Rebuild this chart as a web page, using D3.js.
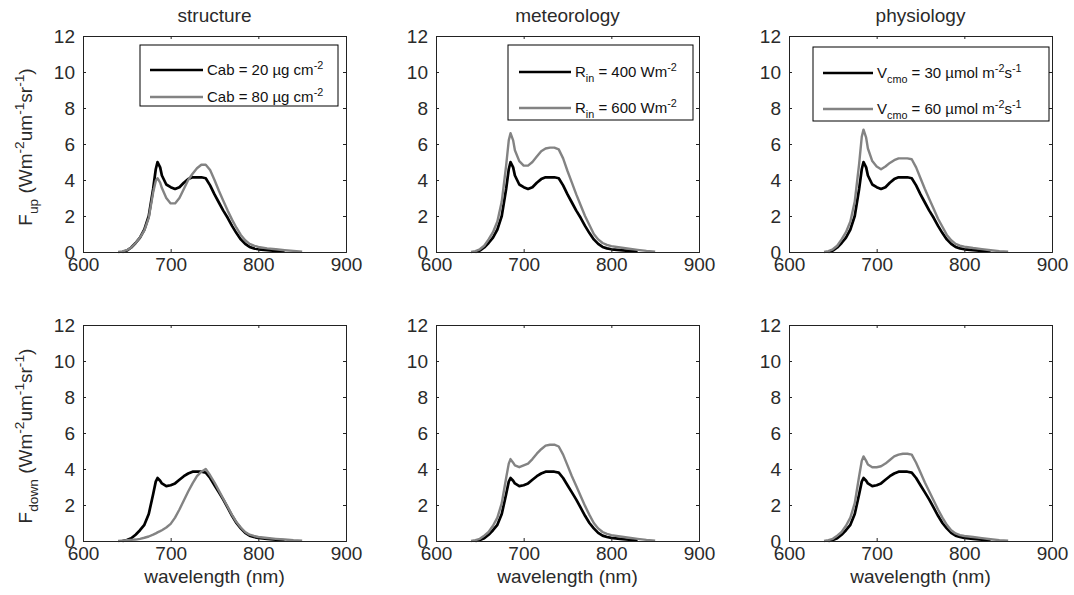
<!DOCTYPE html>
<html>
<head>
<meta charset="utf-8">
<script src="https://cdn.jsdelivr.net/npm/d3@7"></script>
<style>
  body { margin: 0; background: #fff; }
  svg { display: block; font-family: "Liberation Sans", Arial, sans-serif; }
</style>
</head>
<body>
<div id="chart"></div>
<script>
// wavelength grid (nm) shared by every curve
const wavelength = [640, 645, 650, 655, 660, 665, 670, 675, 680, 683, 685, 688, 690, 695, 700, 705, 710, 715, 720, 725,
  730, 735, 740, 745, 750, 755, 760, 765, 770, 775, 780, 785, 790, 795, 800, 810, 820, 830, 840, 850];

// upward fluorescence (W m-2 um-1 sr-1)
const upBase = [null, 0, 0.08, 0.25, 0.5, 0.8, 1.25, 2.0, 3.5, 4.6, 5.0, 4.7, 4.25, 3.75, 3.6, 3.5, 3.6, 3.85, 4.05, 4.15,
  4.15, 4.15, 4.1, 3.7, 3.2, 2.75, 2.3, 1.9, 1.45, 1.05, 0.7, 0.45, 0.28, 0.2, 0.15, 0.1, 0.06, 0.02, null, null];
const upCab80 = [0, 0.03, 0.1, 0.25, 0.5, 0.8, 1.2, 1.9, 3.3, 3.95, 4.1, 3.85, 3.55, 3.0, 2.7, 2.7, 3.0, 3.5, 4.0, 4.35,
  4.65, 4.85, 4.85, 4.55, 4.0, 3.4, 2.85, 2.3, 1.8, 1.35, 0.95, 0.65, 0.45, 0.35, 0.28, 0.2, 0.15, 0.1, 0.06, 0.02];
const upRin600 = [0, 0.05, 0.15, 0.35, 0.7, 1.1, 1.7, 2.8, 4.8, 6.2, 6.6, 6.2, 5.65, 5.05, 4.8, 4.8, 5.0, 5.3, 5.6, 5.75,
  5.8, 5.8, 5.7, 5.2, 4.5, 3.85, 3.2, 2.6, 2.0, 1.5, 1.0, 0.7, 0.5, 0.4, 0.33, 0.25, 0.18, 0.12, 0.06, 0.02];
const upVcmo60 = [0, 0.05, 0.15, 0.35, 0.7, 1.1, 1.7, 2.8, 4.9, 6.4, 6.8, 6.35, 5.75, 5.05, 4.75, 4.6, 4.75, 4.95, 5.1, 5.2,
  5.2, 5.2, 5.15, 4.7, 4.1, 3.5, 2.95, 2.4, 1.85, 1.4, 0.95, 0.65, 0.45, 0.35, 0.3, 0.22, 0.16, 0.1, 0.05, 0.02];

// downward fluorescence
const downBase = [null, 0, 0.05, 0.15, 0.35, 0.6, 0.9, 1.5, 2.6, 3.3, 3.5, 3.35, 3.2, 3.05, 3.1, 3.2, 3.4, 3.6, 3.75, 3.85,
  3.85, 3.85, 3.8, 3.5, 3.1, 2.7, 2.3, 1.85, 1.4, 1.0, 0.7, 0.45, 0.3, 0.22, 0.17, 0.12, 0.07, 0.03, null, null];
const downCab80 = [0, 0.02, 0.04, 0.06, 0.08, 0.12, 0.18, 0.25, 0.35, 0.42, 0.48, 0.55, 0.6, 0.75, 0.95, 1.3, 1.75, 2.25, 2.75, 3.2,
  3.6, 3.85, 4.0, 3.65, 3.25, 2.8, 2.35, 1.9, 1.45, 1.05, 0.75, 0.5, 0.35, 0.28, 0.22, 0.17, 0.12, 0.08, 0.04, 0.02];
const downRin600 = [0, 0.05, 0.12, 0.3, 0.5, 0.85, 1.3, 2.1, 3.5, 4.3, 4.55, 4.35, 4.2, 4.1, 4.2, 4.3, 4.55, 4.85, 5.1, 5.3,
  5.35, 5.35, 5.25, 4.8, 4.2, 3.6, 3.05, 2.5, 1.95, 1.45, 1.0, 0.7, 0.5, 0.4, 0.33, 0.25, 0.18, 0.12, 0.06, 0.02];
const downVcmo60 = [0, 0.05, 0.12, 0.3, 0.5, 0.85, 1.3, 2.1, 3.6, 4.45, 4.7, 4.45, 4.25, 4.1, 4.1, 4.15, 4.3, 4.5, 4.7, 4.8,
  4.85, 4.85, 4.8, 4.35, 3.8, 3.25, 2.75, 2.25, 1.75, 1.3, 0.9, 0.6, 0.42, 0.33, 0.28, 0.22, 0.16, 0.1, 0.05, 0.02];

const columnTitles = ["structure", "meteorology", "physiology"];
const xTicks = [600, 700, 800, 900];
const yTicks = [0, 2, 4, 6, 8, 10, 12];

// legend labels, as rich-text parts
const legendLabels = [
  [[{ t: "Cab = 20 µg cm" }, { t: "-2", sup: true }], [{ t: "Cab = 80 µg cm" }, { t: "-2", sup: true }]],
  [[{ t: "R" }, { t: "in", sub: true }, { t: " = 400 Wm" }, { t: "-2", sup: true }],
   [{ t: "R" }, { t: "in", sub: true }, { t: " = 600 Wm" }, { t: "-2", sup: true }]],
  [[{ t: "V" }, { t: "cmo", sub: true }, { t: " = 30 µmol m" }, { t: "-2", sup: true }, { t: "s" }, { t: "-1", sup: true }],
   [{ t: "V" }, { t: "cmo", sub: true }, { t: " = 60 µmol m" }, { t: "-2", sup: true }, { t: "s" }, { t: "-1", sup: true }]]
];
const yLabels = [
  [{ t: "F" }, { t: "up", sub: true }, { t: " (Wm" }, { t: "-2", sup: true }, { t: "um" }, { t: "-1", sup: true }, { t: "sr" }, { t: "-1", sup: true }, { t: ")" }],
  [{ t: "F" }, { t: "down", sub: true }, { t: " (Wm" }, { t: "-2", sup: true }, { t: "um" }, { t: "-1", sup: true }, { t: "sr" }, { t: "-1", sup: true }, { t: ")" }]
];

// [row][col] -> [black series, gray series]
const panelSeries = [
  [[upBase, upCab80], [upBase, upRin600], [upBase, upVcmo60]],
  [[downBase, downCab80], [downBase, downRin600], [downBase, downVcmo60]]
];

// layout
const W = 1074, H = 595;
const colX = [83, 436, 789];
const rowY = [36, 325];
const pw = 263, ph = 216;
const fs = 19;
const lineColors = ["#000", "#838383"];
const lineWidths = [2.7, 2.4];
// legend boxes (relative to plot area)
const legendBoxes = [
  { x: 57, y: 9, w: 198, h: 61, lx0: 10, lx1: 63, rows: [25, 52] },
  { x: 72, y: 9, w: 185, h: 75, lx0: 11, lx1: 63, rows: [27, 63] },
  { x: 24, y: 11, w: 236, h: 74, lx0: 10, lx1: 60, rows: [26, 62] }
];

const svg = d3.select("#chart").append("svg")
  .attr("width", W).attr("height", H);

function richText(sel, parts, size) {
  let shift = 0;
  parts.forEach(p => {
    let target = 0;
    let s = size;
    if (p.sup) { target = -size * 0.42; s = size * 0.72; }
    if (p.sub) { target = size * 0.32; s = size * 0.72; }
    sel.append("tspan")
      .attr("dy", target - shift)
      .attr("font-size", s)
      .text(p.t);
    shift = target;
  });
}

const x = d3.scaleLinear().domain([600, 900]).range([0, pw]);
const y = d3.scaleLinear().domain([0, 12]).range([ph, 0]);

const line = d3.line()
  .defined(d => d[1] != null)
  .x(d => x(d[0]))
  .y(d => y(d[1]));

for (let r = 0; r < 2; r++) {
  for (let c = 0; c < 3; c++) {
    const g = svg.append("g").attr("transform", `translate(${colX[c]},${rowY[r]})`);

    // curves
    panelSeries[r][c].forEach((vals, i) => {
      g.append("path")
        .datum(wavelength.map((w, k) => [w, vals[k]]))
        .attr("d", line)
        .attr("fill", "none")
        .attr("stroke", lineColors[i])
        .attr("stroke-width", lineWidths[i])
        .attr("stroke-linejoin", "round");
    });

    // axes (MATLAB style: inward ticks on all four sides)
    const tk = 3;
    g.append("g").attr("transform", `translate(0,${ph})`)
      .call(d3.axisBottom(x).tickValues(xTicks).tickSize(-tk).tickPadding(6).tickFormat(d3.format("d")));
    g.append("g")
      .call(d3.axisTop(x).tickValues(xTicks).tickSize(-tk).tickFormat(""));
    g.append("g")
      .call(d3.axisLeft(y).tickValues(yTicks).tickSize(-tk).tickPadding(8).tickFormat(d3.format("d")));
    g.append("g").attr("transform", `translate(${pw},0)`)
      .call(d3.axisRight(y).tickValues(yTicks).tickSize(-tk).tickFormat(""));
    g.selectAll(".domain").attr("stroke", "#222").attr("stroke-width", 1);
    g.selectAll(".tick line").attr("stroke", "#222");
    g.selectAll(".tick text").attr("font-size", fs).attr("fill", "#2a2a2a")
      .attr("font-family", "Liberation Sans, Arial, sans-serif");

    // titles
    if (r === 0) {
      g.append("text")
        .attr("x", pw / 2).attr("y", -14)
        .attr("text-anchor", "middle")
        .attr("font-size", fs).attr("fill", "#2a2a2a")
        .text(columnTitles[c]);

      // legend
      const lb = legendBoxes[c];
      const lg = g.append("g").attr("transform", `translate(${lb.x},${lb.y})`);
      lg.append("rect")
        .attr("width", lb.w).attr("height", lb.h)
        .attr("fill", "#fff").attr("stroke", "#000").attr("stroke-width", 1);
      legendLabels[c].forEach((parts, i) => {
        lg.append("line")
          .attr("x1", lb.lx0).attr("x2", lb.lx1)
          .attr("y1", lb.rows[i]).attr("y2", lb.rows[i])
          .attr("stroke", lineColors[i]).attr("stroke-width", lineWidths[i]);
        const t = lg.append("text")
          .attr("x", lb.lx1 + 4).attr("y", lb.rows[i] + 5)
          .attr("font-size", 15).attr("fill", "#111");
        richText(t, parts, 15);
      });
    } else {
      g.append("text")
        .attr("x", pw / 2).attr("y", ph + 42)
        .attr("text-anchor", "middle")
        .attr("font-size", fs).attr("fill", "#2a2a2a")
        .text("wavelength (nm)");
    }

    // y label on the left column
    if (c === 0) {
      const t = g.append("text")
        .attr("transform", `translate(${32 - colX[0]},${ph / 2 + 3}) rotate(-90)`)
        .attr("text-anchor", "middle")
        .attr("font-size", fs).attr("fill", "#2a2a2a");
      richText(t, yLabels[r], fs);
    }
  }
}
</script>
</body>
</html>
